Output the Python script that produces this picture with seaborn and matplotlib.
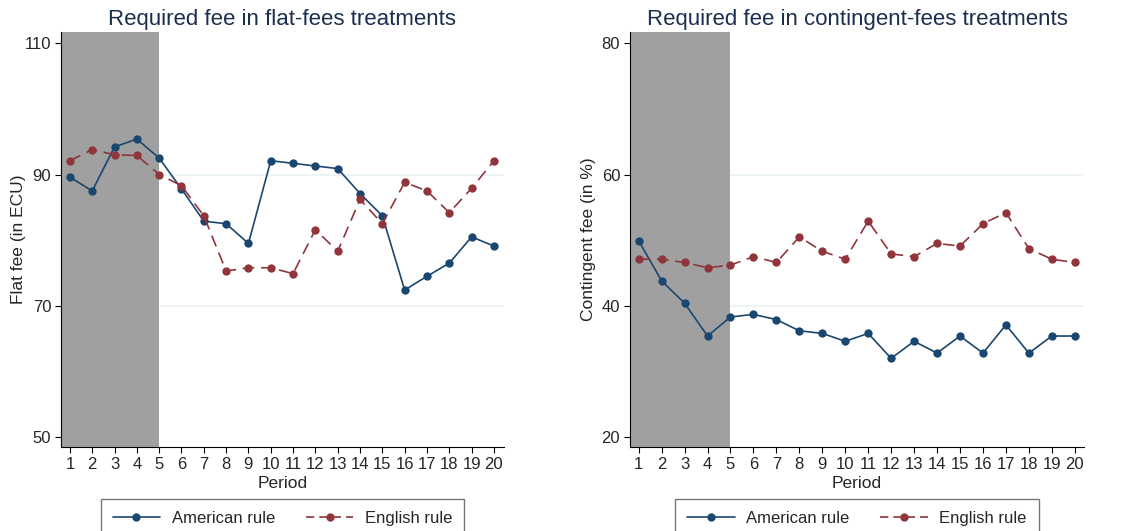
"""
Required fee by period, flat-fees vs contingent-fees treatments
"""
import matplotlib
matplotlib.use("Agg")
import matplotlib.pyplot as plt
from matplotlib.lines import Line2D
import pandas as pd
import seaborn as sns

sns.set_style("white")
plt.rcParams["font.family"] = ["Liberation Sans", "DejaVu Sans"]

periods = list(range(1, 21))
rules = ["American rule", "English rule"]

# flat fee (in ECU)
flat_american = [89.6, 87.5, 94.2, 95.4, 92.5, 87.8, 82.9, 82.5, 79.5, 92.1,
                 91.7, 91.3, 90.9, 87.1, 83.7, 72.4, 74.5, 76.5, 80.5, 79.1]
flat_english = [92.1, 93.8, 93.0, 92.9, 90.0, 88.3, 83.7, 75.3, 75.8, 75.8,
                74.9, 81.6, 78.3, 86.2, 82.5, 88.8, 87.5, 84.2, 87.9, 92.1]

# contingent fee (in %)
cont_american = [49.9, 43.8, 40.4, 35.4, 38.3, 38.7, 37.9, 36.2, 35.8, 34.6,
                 35.8, 32.0, 34.6, 32.8, 35.4, 32.8, 37.1, 32.8, 35.4, 35.4]
cont_english = [47.1, 47.1, 46.6, 45.8, 46.2, 47.5, 46.6, 50.5, 48.3, 47.1,
                52.9, 47.9, 47.5, 49.5, 49.1, 52.5, 54.2, 48.7, 47.1, 46.6]

practice_end = 5  # shaded practice periods

navy = "#1A476F"
maroon = "#90353B"
title_col = "#1B2F4F"
palette = {"American rule": navy, "English rule": maroon}
dashes = {"American rule": "", "English rule": (7, 4)}
markers = {"American rule": "o", "English rule": "o"}


def long_frame(american, english):
    return pd.DataFrame({
        "Period": periods * 2,
        "fee": american + english,
        "Rule": ["American rule"] * 20 + ["English rule"] * 20,
    })


panels = [
    dict(df=long_frame(flat_american, flat_english),
         title="Required fee in flat-fees treatments",
         ylabel="Flat fee (in ECU)", yticks=[50, 70, 90, 110],
         ylim=(48.5, 111.7), grid=[70, 90], xlim=(0.6, 20.45),
         pos=[0.0539, 0.1582, 0.3917, 0.7815], ylab_x=-0.079),
    dict(df=long_frame(cont_american, cont_english),
         title="Required fee in contingent-fees treatments",
         ylabel="Contingent fee (in %)", yticks=[20, 40, 60, 80],
         ylim=(18.5, 81.7), grid=[40, 60], xlim=(0.62, 20.4),
         pos=[0.557, 0.1582, 0.4014, 0.7815], ylab_x=-0.075),
]

fig = plt.figure(figsize=(11.31, 5.31), dpi=100)

for p in panels:
    ax = fig.add_axes(p["pos"])
    for g in p["grid"]:
        ax.axhline(g, color="#EAF2F3", lw=1.2, zorder=0)
    ax.axvspan(p["xlim"][0], practice_end, color="#A0A0A0", lw=0, zorder=0.5)

    sns.lineplot(data=p["df"], x="Period", y="fee", hue="Rule", style="Rule",
                 palette=palette, dashes=dashes, markers=markers,
                 linewidth=1.2, markersize=6, markeredgewidth=0,
                 legend=False, ax=ax, zorder=3)

    ax.set_xlim(*p["xlim"])
    ax.set_ylim(*p["ylim"])
    ax.set_xticks(periods)
    ax.set_yticks(p["yticks"])
    ax.tick_params(axis="both", direction="out", length=4, width=0.8,
                   labelsize=12, color="black", pad=3,
                   bottom=True, left=True)
    for s in ["top", "right"]:
        ax.spines[s].set_visible(False)
    for s in ["left", "bottom"]:
        ax.spines[s].set_color("black")
        ax.spines[s].set_linewidth(0.8)

    ax.set_title(p["title"], fontsize=16, color=title_col, pad=5)
    ax.set_xlabel("Period", fontsize=12.5, labelpad=3)
    ax.set_ylabel(p["ylabel"], fontsize=12.5)
    ax.yaxis.set_label_coords(p["ylab_x"], 0.5)

    handles = [
        Line2D([], [], color=navy, lw=1.2, marker="o", markersize=6,
               markeredgewidth=0),
        Line2D([], [], color=maroon, lw=1.2, marker="o", markersize=6,
               markeredgewidth=0, dashes=(5, 3)),
    ]
    leg = ax.legend(handles, rules, loc="upper center",
                    bbox_to_anchor=(0.5, -0.106), ncol=2, fontsize=12,
                    frameon=True, fancybox=False, handlelength=2.85,
                    handletextpad=0.7, columnspacing=1.85, borderpad=0.72)
    leg.get_frame().set_edgecolor("#555555")
    leg.get_frame().set_linewidth(1.0)

plt.savefig("out.png", dpi=100)
